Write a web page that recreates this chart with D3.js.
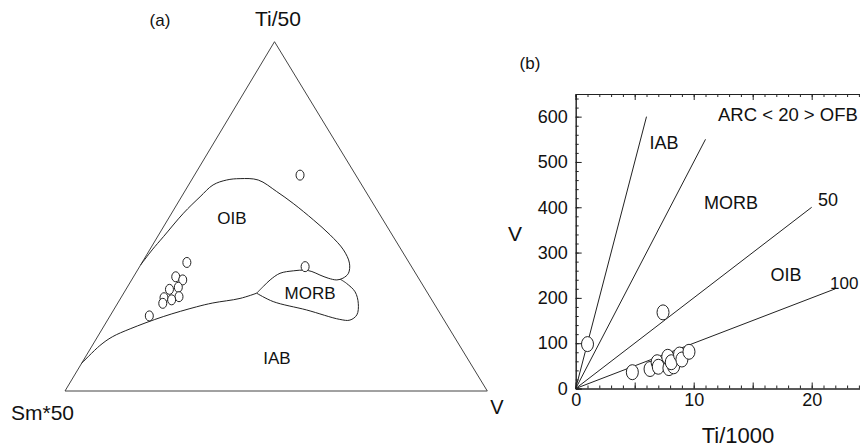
<!DOCTYPE html>
<html>
<head>
<meta charset="utf-8">
<script src="https://cdn.jsdelivr.net/npm/d3@7"></script>
<style>
  html, body { margin: 0; padding: 0; background: #fff; }
  svg { display: block; font-family: "Liberation Sans", Arial, Helvetica, sans-serif; }
</style>
</head>
<body>
<svg id="chart" width="860" height="447"></svg>
<script>
// ---------- Panel (a): Ti/50 – Sm*50 – V ternary (percent: [Ti, Sm, V]) ----------
const ternarySamples = [
  [36.8, 52.6, 10.6], [32.7, 57.3, 10.0], [31.8, 56.1, 12.1], [29.7, 58.2, 12.1],
  [29.1, 60.6, 10.3], [26.7, 63.1, 10.2], [27.0, 59.4, 13.6], [26.1, 61.6, 12.3],
  [25.1, 64.2, 10.7], [21.5, 69.2, 9.3], [61.8, 13.2, 25.0], [35.6, 25.2, 39.2]
];
// OIB field outline (from Sm*50 side, over the top, to the junction)
const oibBoundary = [
  [36.1, 63.9, 0.0], [40.4, 59.0, 0.6], [44.2, 54.4, 1.4], [50.9, 46.3, 2.8],
  [55.6, 40.0, 4.4], [59.0, 35.2, 5.8], [60.4, 31.3, 8.3], [60.8, 27.9, 11.3],
  [60.4, 23.8, 15.8], [57.1, 21.1, 21.8], [53.7, 18.9, 27.4], [49.0, 16.5, 34.5],
  [44.7, 14.7, 40.6], [40.4, 13.7, 45.9], [36.6, 14.2, 49.2], [33.7, 15.9, 50.4],
  [32.3, 17.9, 49.8], [31.8, 19.6, 48.6], [32.3, 21.4, 46.3], [33.2, 22.9, 43.9],
  [34.2, 24.3, 41.5], [34.6, 25.8, 39.6], [34.4, 28.6, 37.0], [33.7, 32.1, 34.2],
  [31.8, 35.4, 32.8], [29.9, 38.0, 32.1], [28.0, 40.5, 31.5]
];
// IAB upper limit (junction to Sm*50 side)
const iabBoundary = [
  [28.0, 40.5, 31.5], [26.5, 45.2, 28.3], [25.2, 52.3, 22.5], [24.1, 56.7, 19.2],
  [21.3, 66.0, 12.7], [17.8, 75.6, 6.6], [15.5, 81.0, 3.5], [13.0, 85.2, 1.8],
  [7.9, 92.1, 0.0]
];
// MORB field lower outline (junction round to the OIB outline)
const morbBoundary = [
  [28.0, 40.5, 31.5], [25.6, 37.8, 36.6], [23.2, 31.1, 45.7], [20.5, 24.6, 54.9],
  [20.3, 22.3, 57.4], [21.8, 19.9, 58.3], [25.1, 17.9, 57.0], [28.4, 17.0, 54.6],
  [30.8, 17.8, 51.4], [32.0, 18.7, 49.3]
];
const ternaryApex = ["Ti/50", "Sm*50", "V"];
const ternaryFields = ["OIB", "MORB", "IAB"];

// ---------- Panel (b): Ti/1000 vs V ----------
const tiValues = [1.0, 7.4, 4.8, 6.3, 6.9, 7.0, 7.8, 7.9, 8.3, 8.1, 8.8, 9.0, 9.6];
const vValues  = [98, 168, 36, 43, 58, 48, 70, 45, 49, 58, 75, 64, 81];
const ratioLineTi = [6, 11, 20, 22];
const ratioLineV  = [600, 550, 400, 220];
const xTickLabels = [0, 10, 20];
const yTickLabels = [0, 100, 200, 300, 400, 500, 600];
const fieldsB = ["IAB", "MORB", "OIB"];
const ratioLabels = ["50", "100"];

const svg = d3.select("#chart");
const ink = "#222";
const font = "\"Liberation Sans\", Arial, Helvetica, sans-serif";

// ===== Ternary =====
const tY  = d3.scaleLinear().domain([0, 100]).range([391, 41.7]);   // Ti -> y
const tXL = d3.scaleLinear().domain([0, 100]).range([65, 274.5]);   // Ti -> left-edge x
const tW  = d3.scaleLinear().domain([0, 100]).range([0, 422.3]);    // V  -> offset x
const tern = d => [tXL(d[0]) + tW(d[2]), tY(d[0])];

const ga = svg.append("g");
const verts = [[100, 0, 0], [0, 100, 0], [0, 0, 100]].map(tern);
ga.append("path")
  .attr("d", d3.line()([...verts, verts[0]]))
  .attr("fill", "none").attr("stroke", "#444").attr("stroke-width", 1);

const curve = d3.line().x(d => tern(d)[0]).y(d => tern(d)[1]).curve(d3.curveCatmullRom.alpha(0.5));
[oibBoundary, iabBoundary, morbBoundary].forEach(b => {
  ga.append("path").attr("d", curve(b)).attr("fill", "none").attr("stroke", ink).attr("stroke-width", 1);
});

ga.selectAll("ellipse").data(ternarySamples).join("ellipse")
  .attr("cx", d => tern(d)[0]).attr("cy", d => tern(d)[1])
  .attr("rx", 4).attr("ry", 5)
  .attr("fill", "#fff").attr("stroke", ink).attr("stroke-width", 1);

const txt = (g, s, x, y, size, anchor) => g.append("text").text(s)
  .attr("x", x).attr("y", y).attr("font-size", size)
  .attr("text-anchor", anchor || "middle").attr("dominant-baseline", "central")
  .attr("fill", "#111").style("font-family", font);

txt(ga, "(a)", 160, 20, 17);
txt(ga, ternaryApex[0], 278, 18, 21);
txt(ga, ternaryApex[1], 11, 412, 21, "start");
txt(ga, ternaryApex[2], 497, 407, 20);
txt(ga, ternaryFields[0], 232, 218, 17);
txt(ga, ternaryFields[1], 310, 293, 17);
txt(ga, ternaryFields[2], 277, 358, 17);

// ===== Ti-V diagram =====
const x = d3.scaleLinear().domain([0, 25]).range([575.7, 870.7]);
const y = d3.scaleLinear().domain([0, 650]).range([388.5, 94]);
const gb = svg.append("g");

const styleAxis = g => {
  g.selectAll("path").attr("stroke", ink);
  g.selectAll("line").attr("stroke", ink);
  g.selectAll("text").attr("font-size", 18).attr("fill", "#111").style("font-family", font);
};

// minor ticks
gb.append("g").attr("transform", `translate(0,${y(0)})`)
  .call(d3.axisBottom(x).tickValues(d3.range(0, 26, 1)).tickSize(-3).tickFormat(""))
  .call(styleAxis);
gb.append("g").attr("transform", `translate(0,${y(650)})`)
  .call(d3.axisTop(x).tickValues(d3.range(0, 26, 1)).tickSize(-3).tickFormat(""))
  .call(styleAxis);
gb.append("g").attr("transform", `translate(${x(0)},0)`)
  .call(d3.axisLeft(y).tickValues(d3.range(0, 651, 20)).tickSize(-3).tickFormat(""))
  .call(styleAxis);
// major ticks
gb.append("g").attr("transform", `translate(0,${y(0)})`)
  .call(d3.axisBottom(x).tickValues(d3.range(0, 26, 5)).tickSize(-6).tickPadding(5)
    .tickFormat(d => xTickLabels.includes(d) ? d : ""))
  .call(styleAxis);
gb.append("g").attr("transform", `translate(0,${y(650)})`)
  .call(d3.axisTop(x).tickValues(d3.range(0, 26, 5)).tickSize(-6).tickFormat(""))
  .call(styleAxis);
gb.append("g").attr("transform", `translate(${x(0)},0)`)
  .call(d3.axisLeft(y).tickValues(yTickLabels).tickSize(-6).tickPadding(8))
  .call(styleAxis);

// ratio lines
gb.selectAll("line.ratio").data(ratioLineTi).join("line").attr("class", "ratio")
  .attr("x1", x(0)).attr("y1", y(0))
  .attr("x2", (d, i) => x(d)).attr("y2", (d, i) => y(ratioLineV[i]))
  .attr("stroke", ink).attr("stroke-width", 1);

gb.selectAll("ellipse").data(tiValues).join("ellipse")
  .attr("cx", d => x(d)).attr("cy", (d, i) => y(vValues[i]))
  .attr("rx", 6).attr("ry", 7.5)
  .attr("fill", "#fff").attr("stroke", ink).attr("stroke-width", 1);

txt(gb, "(b)", 530, 63, 17);
txt(gb, "V", 515, 233, 21);
txt(gb, "Ti/1000", 738, 435, 22);
txt(gb, "ARC < 20 > OFB", 718, 114, 18.5, "start");
txt(gb, fieldsB[0], 664, 143, 18);
txt(gb, fieldsB[1], 731, 203, 18);
txt(gb, fieldsB[2], 786, 275, 18);
txt(gb, ratioLabels[0], 818, 200, 18, "start");
txt(gb, ratioLabels[1], 830, 283, 17, "start");
</script>
</body>
</html>
